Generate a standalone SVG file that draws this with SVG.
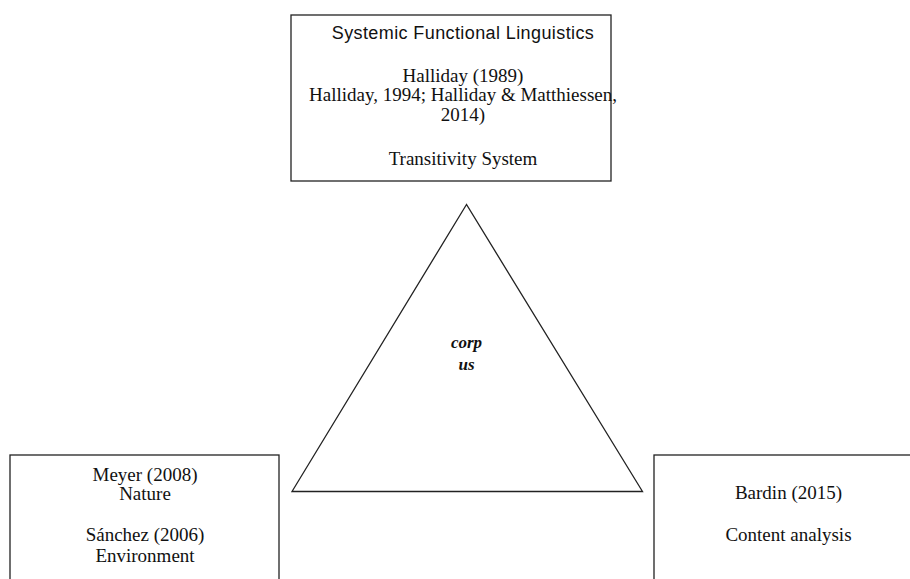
<svg xmlns="http://www.w3.org/2000/svg" width="910" height="579" viewBox="0 0 910 579">
<style>
.box{fill:#fff;stroke:#222;stroke-width:1.3}
.s{font-family:"Liberation Serif","Times New Roman",serif;font-size:19px;fill:#111;text-anchor:middle}
.ss{font-family:"Liberation Sans",Arial,sans-serif;font-size:18px;letter-spacing:0.4px;fill:#111;text-anchor:middle}
.it{font-family:"Liberation Serif","Times New Roman",serif;font-size:17px;font-style:italic;font-weight:bold;fill:#111;text-anchor:middle}
</style>
<rect width="910" height="579" fill="#fff"/>
<g id="sfl">
<rect class="box" x="291" y="15" width="320" height="166"/>
<text class="ss" x="463" y="39">Systemic Functional Linguistics</text>
<text class="s" x="463" y="82">Halliday (1989)</text>
<text class="s" x="463" y="101">Halliday, 1994; Halliday &amp; Matthiessen,</text>
<text class="s" x="463" y="121">2014)</text>
<text class="s" x="463" y="165">Transitivity System</text>
</g>
<g id="corpus">
<polygon class="box" points="466.5,204.5 292,491.5 642.5,491.5"/>
<text class="it" x="466.5" y="348">corp</text>
<text class="it" x="466.5" y="370">us</text>
</g>
<g id="meyer">
<rect class="box" x="10" y="455" width="269" height="130"/>
<text class="s" x="145" y="481">Meyer (2008)</text>
<text class="s" x="145" y="500">Nature</text>
<text class="s" x="145" y="541">Sánchez (2006)</text>
<text class="s" x="145" y="562">Environment</text>
</g>
<g id="bardin">
<rect class="box" x="654" y="455" width="270" height="130"/>
<text class="s" x="788.5" y="499">Bardin (2015)</text>
<text class="s" x="788.5" y="541">Content analysis</text>
</g>
<g id="connectors"></g>
</svg>
